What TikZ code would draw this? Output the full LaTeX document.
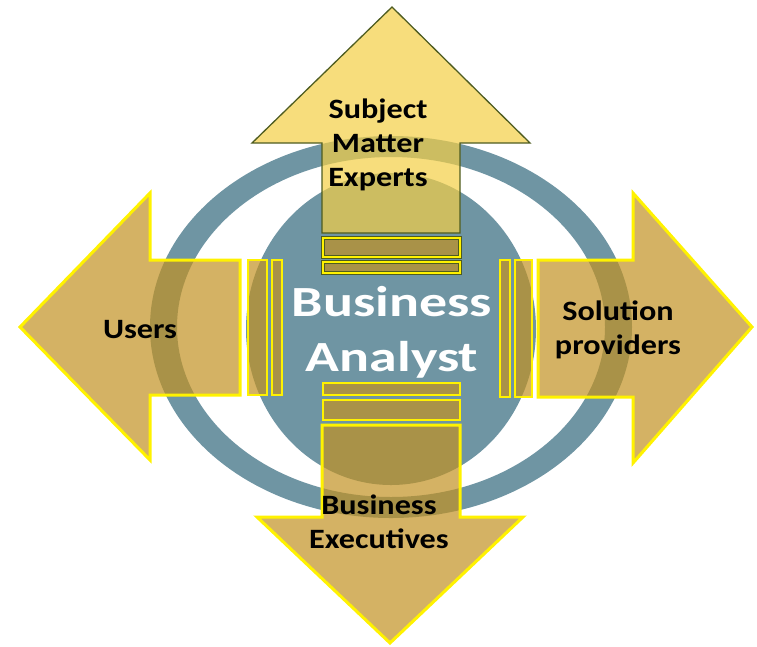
\documentclass[tikz,border=0pt]{standalone}
\usepackage{fontspec}
\setmainfont{Carlito}
\usepackage{xcolor}
\definecolor{ringblue}{RGB}{111,149,163}
\definecolor{arrowtan}{RGB}{194,145,34}
\definecolor{arrowedge}{RGB}{255,242,0}
\definecolor{toptan}{RGB}{244,206,69}
\definecolor{topedge}{RGB}{78,92,32}

\begin{document}
\begin{tikzpicture}[
    x=1pt, y=-1pt,
    sidearrow/.style={fill=arrowtan, fill opacity=0.7, draw=arrowedge, line width=3pt, line join=miter},
    toparrow/.style={fill=toptan, fill opacity=0.7, draw=topedge, line width=1.3pt, line join=miter},
    sidebar/.style={sidearrow, line width=2.5pt},
    topbar/.style={fill=arrowtan, fill opacity=0.7, draw=topedge, double=arrowedge, double distance=1.6pt, line width=0.8pt},
    party/.style={font=\fontsize{28}{34}\selectfont\bfseries, align=center, inner sep=0pt, xscale=1.15},
    role/.style={font=\fontsize{43}{55}\selectfont\bfseries, align=center, inner sep=0pt, xscale=1.3, text=white},
]
  \useasboundingbox (0,0) rectangle (757,646);
  % ring and hub
  \fill[ringblue, even odd rule] (391,327) ellipse [x radius=241, y radius=191]
                                 (391,327) ellipse [x radius=214, y radius=170];
  \fill[ringblue] (391,329) ellipse [x radius=145, y radius=156];
  % four arrows
  \draw[toparrow] (322,233) -- (322,143) -- (252,143) -- (392,7) -- (530,143) -- (460,143) -- (460,233) -- cycle;
  \draw[sidearrow] (322,425) -- (460,425) -- (460,517) -- (523,517) -- (390,643) -- (257,517) -- (322,517) -- cycle;
  \draw[sidearrow] (240,260) -- (150,260) -- (150,193) -- (20,327) -- (150,460) -- (150,395) -- (240,395) -- cycle;
  \draw[sidearrow] (538,260) -- (633,260) -- (633,193) -- (752,327) -- (633,463) -- (633,397) -- (538,397) -- cycle;
  % bars between arrows and hub
  \draw[topbar] (323,238) rectangle (460,257);
  \draw[topbar] (323,262) rectangle (460,273);
  \draw[sidebar] (323,383) rectangle (460,395);
  \draw[sidebar] (323,400) rectangle (460,420);
  \draw[sidebar] (248,260) rectangle (267,395);
  \draw[sidebar] (272,260) rectangle (282,395);
  \draw[sidebar] (500,260) rectangle (510,397);
  \draw[sidebar] (515,260) rectangle (532,397);
  % labels
  \node[role] (analyst) at (392,332) {Business\\Analyst};
  \node[party] (experts) at (378,145) {Subject\\Matter\\Experts};
  \node[party] (users) at (140,330) {Users};
  \node[party] (providers) at (618,330) {Solution\\providers};
  \node[party] (executives) at (379,522) {Business\\Executives};
\end{tikzpicture}
\end{document}
